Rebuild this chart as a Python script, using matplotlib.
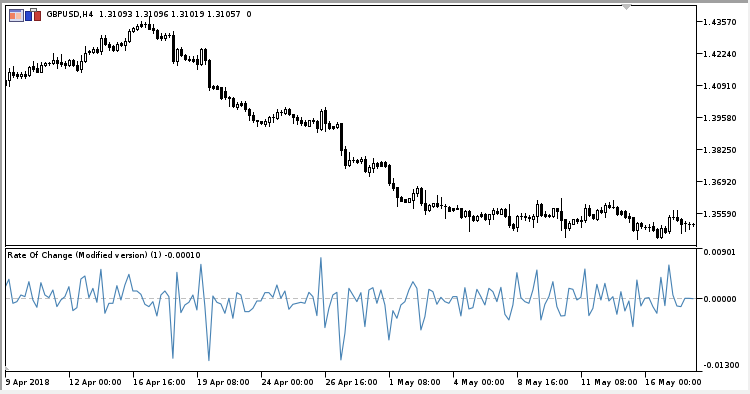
import numpy as np
import matplotlib
matplotlib.use("Agg")
import matplotlib.pyplot as plt
from matplotlib.patches import Polygon, Rectangle

plt.rcParams["font.family"] = ["DejaVu Sans"]
plt.rcParams["text.hinting"] = "native"
plt.rcParams["text.hinting_factor"] = 1

WIDTH, HEIGHT = 750, 394

symbol_text = "GBPUSD,H4  1.31093 1.31096 1.31019 1.31057  0"
indicator_text = "Rate Of Change (Modified version) (1) -0.00010"

open_prices = [
    1.4115, 1.4112, 1.4147, 1.4140, 1.4129, 1.4140, 1.4136, 1.4170, 1.4163, 1.4145,
    1.4176, 1.4184, 1.4184, 1.4198, 1.4187, 1.4184, 1.4175, 1.4198, 1.4177, 1.4159,
    1.4191, 1.4233, 1.4230, 1.4244, 1.4233, 1.4288, 1.4264, 1.4253, 1.4240, 1.4267,
    1.4259, 1.4276, 1.4316, 1.4327, 1.4347, 1.4346, 1.4347, 1.4329, 1.4322, 1.4295,
    1.4287, 1.4302, 1.4302, 1.4194, 1.4242, 1.4219, 1.4202, 1.4201, 1.4201, 1.4181,
    1.4244, 1.4198, 1.4090, 1.4090, 1.4083, 1.4069, 1.4043, 1.4039, 1.4000, 1.4018,
    1.4018, 1.3993, 1.3970, 1.3946, 1.3942, 1.3932, 1.3939, 1.3960, 1.3956, 1.3981,
    1.3975, 1.3995, 1.3973, 1.3960, 1.3946, 1.3938, 1.3924, 1.3946, 1.3945, 1.3910,
    1.3988, 1.3933, 1.3921, 1.3919, 1.3933, 1.3825, 1.3760, 1.3781, 1.3779, 1.3776,
    1.3787, 1.3732, 1.3749, 1.3769, 1.3774, 1.3774, 1.3762, 1.3686, 1.3668, 1.3628,
    1.3617, 1.3608, 1.3613, 1.3642, 1.3663, 1.3603, 1.3573, 1.3588, 1.3601, 1.3594,
    1.3589, 1.3587, 1.3580, 1.3580, 1.3580, 1.3548, 1.3570, 1.3549, 1.3531, 1.3555,
    1.3555, 1.3534, 1.3555, 1.3570, 1.3558, 1.3578, 1.3548, 1.3514, 1.3503, 1.3548,
    1.3548, 1.3545, 1.3537, 1.3548, 1.3599, 1.3558, 1.3551, 1.3548, 1.3580, 1.3569,
    1.3534, 1.3496, 1.3516, 1.3534, 1.3533, 1.3531, 1.3583, 1.3555, 1.3534, 1.3571,
    1.3566, 1.3592, 1.3587, 1.3587, 1.3569, 1.3570, 1.3548, 1.3542, 1.3490, 1.3520,
    1.3504, 1.3504, 1.3506, 1.3493, 1.3461, 1.3500, 1.3486, 1.3545, 1.3545, 1.3537,
    1.3518, 1.3516, 1.3516,
]
close_prices = [
    1.4094, 1.4147, 1.4133, 1.4129, 1.4139, 1.4129, 1.4166, 1.4161, 1.4145, 1.4176,
    1.4184, 1.4183, 1.4198, 1.4184, 1.4180, 1.4177, 1.4198, 1.4175, 1.4157, 1.4191,
    1.4228, 1.4232, 1.4242, 1.4231, 1.4288, 1.4263, 1.4249, 1.4240, 1.4263, 1.4258,
    1.4277, 1.4317, 1.4329, 1.4339, 1.4339, 1.4345, 1.4327, 1.4320, 1.4288, 1.4287,
    1.4302, 1.4301, 1.4194, 1.4242, 1.4216, 1.4202, 1.4195, 1.4194, 1.4180, 1.4244,
    1.4198, 1.4083, 1.4080, 1.4078, 1.4039, 1.4042, 1.4038, 1.4004, 1.4014, 1.4011,
    1.3991, 1.3967, 1.3946, 1.3945, 1.3934, 1.3945, 1.3960, 1.3959, 1.3981, 1.3980,
    1.3995, 1.3973, 1.3959, 1.3946, 1.3933, 1.3926, 1.3946, 1.3945, 1.3915, 1.3986,
    1.3933, 1.3915, 1.3915, 1.3931, 1.3822, 1.3760, 1.3779, 1.3780, 1.3772, 1.3787,
    1.3735, 1.3751, 1.3769, 1.3754, 1.3757, 1.3757, 1.3684, 1.3663, 1.3625, 1.3612,
    1.3608, 1.3621, 1.3645, 1.3663, 1.3601, 1.3572, 1.3592, 1.3601, 1.3589, 1.3593,
    1.3588, 1.3570, 1.3572, 1.3579, 1.3545, 1.3570, 1.3548, 1.3531, 1.3548, 1.3548,
    1.3537, 1.3555, 1.3573, 1.3559, 1.3578, 1.3548, 1.3511, 1.3500, 1.3548, 1.3547,
    1.3543, 1.3538, 1.3548, 1.3599, 1.3552, 1.3548, 1.3547, 1.3580, 1.3569, 1.3531,
    1.3499, 1.3520, 1.3534, 1.3526, 1.3527, 1.3583, 1.3552, 1.3538, 1.3571, 1.3565,
    1.3592, 1.3585, 1.3586, 1.3555, 1.3556, 1.3544, 1.3541, 1.3490, 1.3520, 1.3506,
    1.3503, 1.3503, 1.3490, 1.3461, 1.3500, 1.3483, 1.3545, 1.3544, 1.3531, 1.3514,
    1.3517, 1.3515, 1.3515,
]
high_prices = [
    1.4118, 1.4163, 1.4170, 1.4147, 1.4146, 1.4150, 1.4170, 1.4194, 1.4184, 1.4190,
    1.4190, 1.4188, 1.4226, 1.4209, 1.4223, 1.4191, 1.4201, 1.4202, 1.4191, 1.4219,
    1.4253, 1.4240, 1.4249, 1.4249, 1.4302, 1.4302, 1.4271, 1.4260, 1.4270, 1.4271,
    1.4288, 1.4325, 1.4336, 1.4347, 1.4360, 1.4353, 1.4378, 1.4347, 1.4325, 1.4309,
    1.4309, 1.4311, 1.4316, 1.4246, 1.4251, 1.4223, 1.4212, 1.4212, 1.4219, 1.4246,
    1.4246, 1.4201, 1.4094, 1.4091, 1.4085, 1.4085, 1.4046, 1.4042, 1.4021, 1.4025,
    1.4025, 1.3997, 1.3981, 1.3949, 1.3945, 1.3952, 1.3963, 1.3974, 1.3991, 1.3988,
    1.4002, 1.3997, 1.3974, 1.3970, 1.3960, 1.3949, 1.3949, 1.3956, 1.3949, 1.3993,
    1.4002, 1.3942, 1.3924, 1.3939, 1.3935, 1.3841, 1.3814, 1.3793, 1.3786, 1.3793,
    1.3796, 1.3758, 1.3790, 1.3772, 1.3778, 1.3776, 1.3765, 1.3708, 1.3670, 1.3631,
    1.3620, 1.3624, 1.3659, 1.3672, 1.3670, 1.3655, 1.3596, 1.3603, 1.3634, 1.3627,
    1.3596, 1.3589, 1.3583, 1.3592, 1.3583, 1.3573, 1.3573, 1.3552, 1.3551, 1.3565,
    1.3559, 1.3558, 1.3580, 1.3580, 1.3583, 1.3581, 1.3596, 1.3520, 1.3551, 1.3559,
    1.3562, 1.3551, 1.3558, 1.3613, 1.3601, 1.3569, 1.3555, 1.3583, 1.3583, 1.3621,
    1.3537, 1.3527, 1.3537, 1.3540, 1.3548, 1.3599, 1.3592, 1.3558, 1.3576, 1.3585,
    1.3603, 1.3607, 1.3613, 1.3589, 1.3571, 1.3573, 1.3562, 1.3545, 1.3523, 1.3523,
    1.3512, 1.3513, 1.3523, 1.3496, 1.3511, 1.3506, 1.3551, 1.3571, 1.3571, 1.3541,
    1.3527, 1.3524, 1.3520,
]
low_prices = [
    1.4090, 1.4087, 1.4126, 1.4122, 1.4122, 1.4122, 1.4129, 1.4150, 1.4145, 1.4145,
    1.4170, 1.4175, 1.4181, 1.4163, 1.4170, 1.4163, 1.4173, 1.4170, 1.4152, 1.4145,
    1.4188, 1.4223, 1.4226, 1.4228, 1.4222, 1.4260, 1.4240, 1.4235, 1.4235, 1.4253,
    1.4237, 1.4271, 1.4313, 1.4320, 1.4336, 1.4334, 1.4325, 1.4309, 1.4285, 1.4281,
    1.4281, 1.4291, 1.4184, 1.4175, 1.4212, 1.4198, 1.4191, 1.4188, 1.4161, 1.4177,
    1.4181, 1.4071, 1.4078, 1.4076, 1.4036, 1.4036, 1.4007, 1.4001, 1.3995, 1.4004,
    1.3984, 1.3946, 1.3939, 1.3924, 1.3931, 1.3921, 1.3921, 1.3938, 1.3953, 1.3967,
    1.3974, 1.3967, 1.3933, 1.3931, 1.3926, 1.3924, 1.3921, 1.3935, 1.3897, 1.3905,
    1.3903, 1.3910, 1.3910, 1.3915, 1.3801, 1.3747, 1.3755, 1.3772, 1.3767, 1.3769,
    1.3733, 1.3714, 1.3731, 1.3746, 1.3755, 1.3751, 1.3678, 1.3656, 1.3589, 1.3609,
    1.3606, 1.3605, 1.3580, 1.3631, 1.3594, 1.3555, 1.3570, 1.3587, 1.3585, 1.3583,
    1.3538, 1.3567, 1.3567, 1.3576, 1.3541, 1.3545, 1.3486, 1.3529, 1.3529, 1.3543,
    1.3531, 1.3515, 1.3534, 1.3555, 1.3555, 1.3545, 1.3503, 1.3489, 1.3486, 1.3534,
    1.3531, 1.3527, 1.3503, 1.3523, 1.3548, 1.3545, 1.3544, 1.3545, 1.3541, 1.3490,
    1.3461, 1.3490, 1.3513, 1.3520, 1.3504, 1.3523, 1.3548, 1.3534, 1.3531, 1.3562,
    1.3544, 1.3581, 1.3580, 1.3554, 1.3554, 1.3541, 1.3523, 1.3486, 1.3454, 1.3499,
    1.3493, 1.3486, 1.3486, 1.3457, 1.3458, 1.3479, 1.3479, 1.3534, 1.3527, 1.3479,
    1.3486, 1.3493, 1.3506,
]
roc_values = [
    0.00192, 0.00343, -0.00090, -0.00060, 0.00060, 0.00030, 0.00300, -0.00030, -0.00162, 0.00282,
    0.00060, 0.00012, 0.00150, -0.00150, -0.00030, 0.00030, 0.00210, -0.00222, -0.00168, 0.00348,
    0.00402, 0.00012, 0.00180, -0.00072, 0.00522, -0.00270, -0.00090, -0.00090, 0.00228, -0.00030,
    0.00240, 0.00432, 0.00132, 0.00132, 0.00072, -0.00108, -0.00150, -0.00060, -0.00318, 0.00060,
    0.00132, 0.00030, -0.01080, 0.00468, -0.00258, -0.00120, -0.00072, 0.00060, -0.00210, 0.00612,
    -0.00150, -0.01122, 0.00042, -0.00072, -0.00102, -0.00270, 0.00000, -0.00360, 0.00102, 0.00060,
    -0.00240, -0.00240, -0.00180, -0.00048, -0.00048, 0.00102, 0.00102, 0.00018, 0.00240, 0.00000,
    0.00132, -0.00198, -0.00108, -0.00090, -0.00072, -0.00090, 0.00108, 0.00030, -0.00312, 0.00732,
    -0.00528, -0.00180, 0.00060, 0.00108, -0.01110, -0.00630, 0.00180, 0.00060, -0.00060, 0.00102,
    -0.00510, 0.00150, 0.00192, -0.00090, 0.00150, -0.00120, -0.00750, -0.00222, -0.00360, -0.00120,
    -0.00060, 0.00150, 0.00300, 0.00180, -0.00570, -0.00330, 0.00162, 0.00120, -0.00108, 0.00018,
    -0.00060, -0.00090, 0.00030, 0.00030, -0.00318, 0.00192, -0.00192, -0.00168, 0.00162, 0.00030,
    -0.00120, 0.00180, 0.00120, -0.00060, 0.00198, -0.00288, -0.00390, -0.00120, 0.00462, 0.00012,
    -0.00060, -0.00090, 0.00150, 0.00510, -0.00390, -0.00108, 0.00030, 0.00300, -0.00150, -0.00318,
    -0.00312, 0.00180, 0.00162, -0.00030, 0.00018, 0.00528, -0.00312, -0.00180, 0.00252, -0.00030,
    0.00270, -0.00048, 0.00030, -0.00288, 0.00120, -0.00228, -0.00048, -0.00510, 0.00330, -0.00138,
    0.00000, 0.00012, -0.00150, -0.00270, 0.00378, -0.00132, 0.00600, 0.00060, -0.00138, -0.00150,
    0.00000, 0.00000, -0.00006,
]

price_ticks = [1.43570, 1.42240, 1.40910, 1.39580, 1.38250, 1.36920, 1.35590]
roc_ticks = [0.00901, 0.0, -0.01300]
roc_tick_labels = ["0.00901", "0.00000", "-0.01300"]
time_tick_bars = [0, 16, 32, 48, 64, 80, 96, 112, 128, 144, 160]
time_labels = [
    "9 Apr 2018", "12 Apr 00:00", "16 Apr 16:00", "19 Apr 08:00", "24 Apr 00:00",
    "26 Apr 16:00", "1 May 08:00", "4 May 00:00", "8 May 16:00", "11 May 08:00",
    "16 May 00:00",
]

FONT = 6.0
LW = 0.72


def axes_rect(left, top, right, bottom):
    return [left / WIDTH, 1 - bottom / HEIGHT, (right - left) / WIDTH, (bottom - top) / HEIGHT]


def fig_box(fig, left, top, right, bottom, color, edge="none"):
    fig.add_artist(
        Rectangle(
            (left / WIDTH, 1 - bottom / HEIGHT),
            (right - left) / WIDTH,
            (bottom - top) / HEIGHT,
            transform=fig.transFigure,
            facecolor=color,
            edgecolor=edge,
            linewidth=0.7,
            antialiased=False,
        )
    )


fig = plt.figure(figsize=(WIDTH / 100, HEIGHT / 100), dpi=100, facecolor="white")

# window chrome
fig_box(fig, 0, 0, WIDTH, 3, "#a0a0a0")
fig_box(fig, 0, 0, 2, HEIGHT, "#a0a0a0")
fig_box(fig, 0, 390, WIDTH, HEIGHT, "#f0f0f0")
fig_box(fig, 748, 0, WIDTH, HEIGHT, "#f0f0f0")

ax_price = fig.add_axes(axes_rect(4.5, 4.5, 695.5, 245.5))
ax_roc = fig.add_axes(axes_rect(4.5, 247.5, 695.5, 370.5))

bars = np.arange(len(open_prices))
opens = np.array(open_prices)
closes = np.array(close_prices)
highs = np.array(high_prices)
lows = np.array(low_prices)
up = closes > opens

ax_price.vlines(bars, lows, highs, color="black", linewidth=LW, antialiased=False, zorder=2)
ax_price.bar(
    bars,
    np.abs(closes - opens),
    bottom=np.minimum(opens, closes),
    width=0.5,
    color=np.where(up, "white", "black").tolist(),
    edgecolor="black",
    linewidth=LW,
    antialiased=False,
    zorder=3,
)

ax_roc.axhline(0, color="#c0c0c0", linewidth=LW, dashes=(5, 4), antialiased=False, zorder=1)
ax_roc.plot(bars, roc_values, color="#4682b4", linewidth=0.8, zorder=2)

for ax in (ax_price, ax_roc):
    ax.set_xlim(-0.1, 172.65)
    ax.yaxis.tick_right()
    ax.tick_params(axis="y", length=4, width=LW, labelsize=FONT, pad=1.2)
    for spine in ax.spines.values():
        spine.set_linewidth(LW)
        spine.set_antialiased(False)

ax_price.set_ylim(1.34252, 1.44277)
ax_price.set_yticks(price_ticks)
ax_price.set_yticklabels([f"{p:.5f}" for p in price_ticks])
ax_price.set_xticks([])

ax_roc.set_ylim(-0.0130, 0.00915)
ax_roc.set_yticks(roc_ticks)
labels = ax_roc.set_yticklabels(roc_tick_labels)
labels[0].set_va("top")
labels[2].set_va("bottom")
ax_roc.set_xticks(time_tick_bars)
ax_roc.set_xticklabels(time_labels, ha="left")
ax_roc.tick_params(axis="x", length=4, width=LW, labelsize=FONT, pad=1.5)

fig.text(45.5 / WIDTH, 1 - 14 / HEIGHT, symbol_text, fontsize=FONT, va="center", ha="left")
fig.text(7 / WIDTH, 1 - 256 / HEIGHT, indicator_text, fontsize=FONT, va="center", ha="left")

# toolbar icons top left
fig_box(fig, 8.5, 8.5, 22.5, 20.5, "#d8dcf0", "#50507a")
fig_box(fig, 10, 10, 21, 12, "#7078c8")
fig_box(fig, 10, 13, 15, 19, "#f08060")
fig_box(fig, 16, 13, 21, 19, "#f8c0a8")
fig_box(fig, 25, 11, 31, 20, "#2848d0", "#182888")
fig_box(fig, 34, 11, 40, 20, "#c84038", "#802020")
fig_box(fig, 30, 8, 36, 11, "#e8e8e8", "#606060")

# grey marks at the window edges
fig.add_artist(
    Polygon(
        [(621.5 / WIDTH, 1 - 4.5 / HEIGHT), (631.5 / WIDTH, 1 - 4.5 / HEIGHT), (626.5 / WIDTH, 1 - 9.5 / HEIGHT)],
        transform=fig.transFigure,
        facecolor="#c0c0c0",
        edgecolor="none",
        antialiased=False,
    )
)
fig.add_artist(
    Polygon(
        [(5 / WIDTH, 1 - 366 / HEIGHT), (5 / WIDTH, 1 - 370 / HEIGHT), (9 / WIDTH, 1 - 370 / HEIGHT)],
        transform=fig.transFigure,
        facecolor="#c0c0c0",
        edgecolor="none",
        antialiased=False,
    )
)

fig.savefig("out.png", dpi=100)
